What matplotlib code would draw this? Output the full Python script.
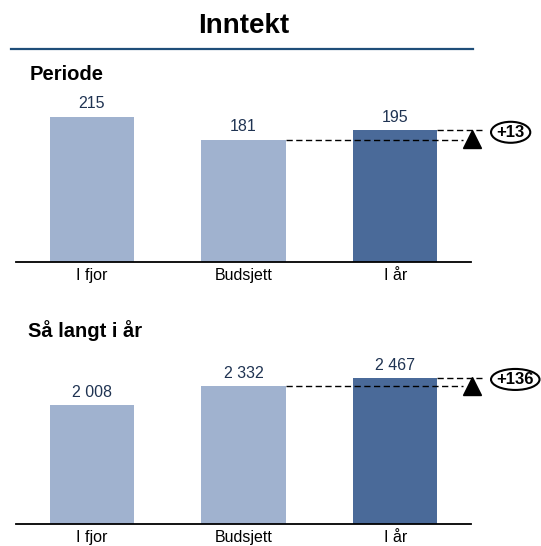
"""
Inntekt: periode og hittil i år mot fjor og budsjett
"""

import matplotlib

matplotlib.use("Agg")
import matplotlib.pyplot as plt
from matplotlib.lines import Line2D
from matplotlib.patches import Ellipse
from matplotlib.transforms import IdentityTransform, offset_copy

# * Data
CATEGORIES = ["I fjor", "Budsjett", "I år"]
PERIOD_VALUES = [215, 181, 195]
YTD_VALUES = [2008, 2332, 2467]
PERIOD_DELTA = "+13"
YTD_DELTA = "+136"

# * Styles
LIGHT = "#a0b2cf"
DARK = "#4a6a99"
LABEL_COLOR = "#1f3352"
FONT = "Liberation Sans"

W, H = 541, 546
plt.rcParams["font.family"] = [FONT, "DejaVu Sans"]


def fmt(v):
    """Norwegian thousands separator"""
    return f"{v:,.0f}".replace(",", " ")


def draw_panel(fig, rect, values, ymax, delta):
    ax = fig.add_axes(rect)
    x = list(range(len(values)))
    colors = [LIGHT, LIGHT, DARK]
    width = 0.554
    ax.bar(x, values, width=width, color=colors, zorder=2)
    ax.set_xlim(-0.5, 2.5)
    ax.set_ylim(0, ymax)
    for xi, v in zip(x, values):
        ax.annotate(fmt(v), (xi, v), xytext=(0, 6), textcoords="offset points",
                    ha="center", va="baseline", fontsize=11.5, color=LABEL_COLOR)
    ax.set_xticks(x)
    ax.set_xticklabels(CATEGORIES, fontsize=11.5)
    ax.tick_params(axis="x", length=0, pad=4.5)
    ax.set_yticks([])
    for side in ["left", "right", "top"]:
        ax.spines[side].set_visible(False)
    ax.spines["bottom"].set_linewidth(1.3)
    ax.spines["bottom"].set_zorder(3)

    budget, actual = values[1], values[2]
    dash = (0, (4.5, 2.5))
    ax.plot([1 + width / 2, 2.447], [budget, budget], color="black", lw=1.0,
            linestyle=dash, clip_on=False, zorder=3)
    ax.plot([2 + width / 2, 2.572], [actual, actual], color="black", lw=1.0,
            linestyle=dash, clip_on=False, zorder=3)
    tri_trans = offset_copy(ax.transData, fig=fig, y=-8.5, units="dots")
    ax.plot([2.506], [actual], marker="^", ms=13, color="black",
            transform=tri_trans, clip_on=False, zorder=4)

    # ## Oval badge with the deviation, sized from the text
    left_px, mid_px = ax.transData.transform((2.632, (budget + actual) / 2))
    mid_px += 2.5
    badge = ax.text(0, 0, delta, ha="center", va="center", fontsize=12,
                    fontweight="bold", transform=IdentityTransform(),
                    clip_on=False, zorder=6)
    renderer = fig.canvas.get_renderer()
    ew = badge.get_window_extent(renderer).width + 11
    cx = left_px + ew / 2
    badge.set_position((cx, mid_px - 0.5))
    ax.add_patch(Ellipse((cx, mid_px), ew, 21, fc="white", ec="black", lw=1.5,
                         transform=IdentityTransform(), clip_on=False, zorder=5))
    return ax


def main() -> None:
    fig = plt.figure(figsize=(W / 100, H / 100), dpi=100)

    fig.text(244 / W, 1 - 33 / H, "Inntekt", ha="center", va="baseline",
             fontsize=20, fontweight="bold")
    fig.add_artist(Line2D([11 / W, 473 / W], [1 - 49 / H, 1 - 49 / H],
                          color="#1f4e79", lw=1.6))
    fig.text(30 / W, 1 - 80 / H, "Periode", ha="left", va="baseline",
             fontsize=14.5, fontweight="bold")
    fig.text(28 / W, 1 - 337 / H, "Så langt i år", ha="left", va="baseline",
             fontsize=14.5, fontweight="bold")

    left, width = 16 / W, 455 / W
    draw_panel(fig, [left, (H - 262) / H, width, 203 / H], PERIOD_VALUES, 300,
               PERIOD_DELTA)
    draw_panel(fig, [left, (H - 524) / H, width, 177.6 / H], YTD_VALUES, 3000,
               YTD_DELTA)

    fig.savefig("out.png", dpi=100)


if __name__ == "__main__":
    main()
